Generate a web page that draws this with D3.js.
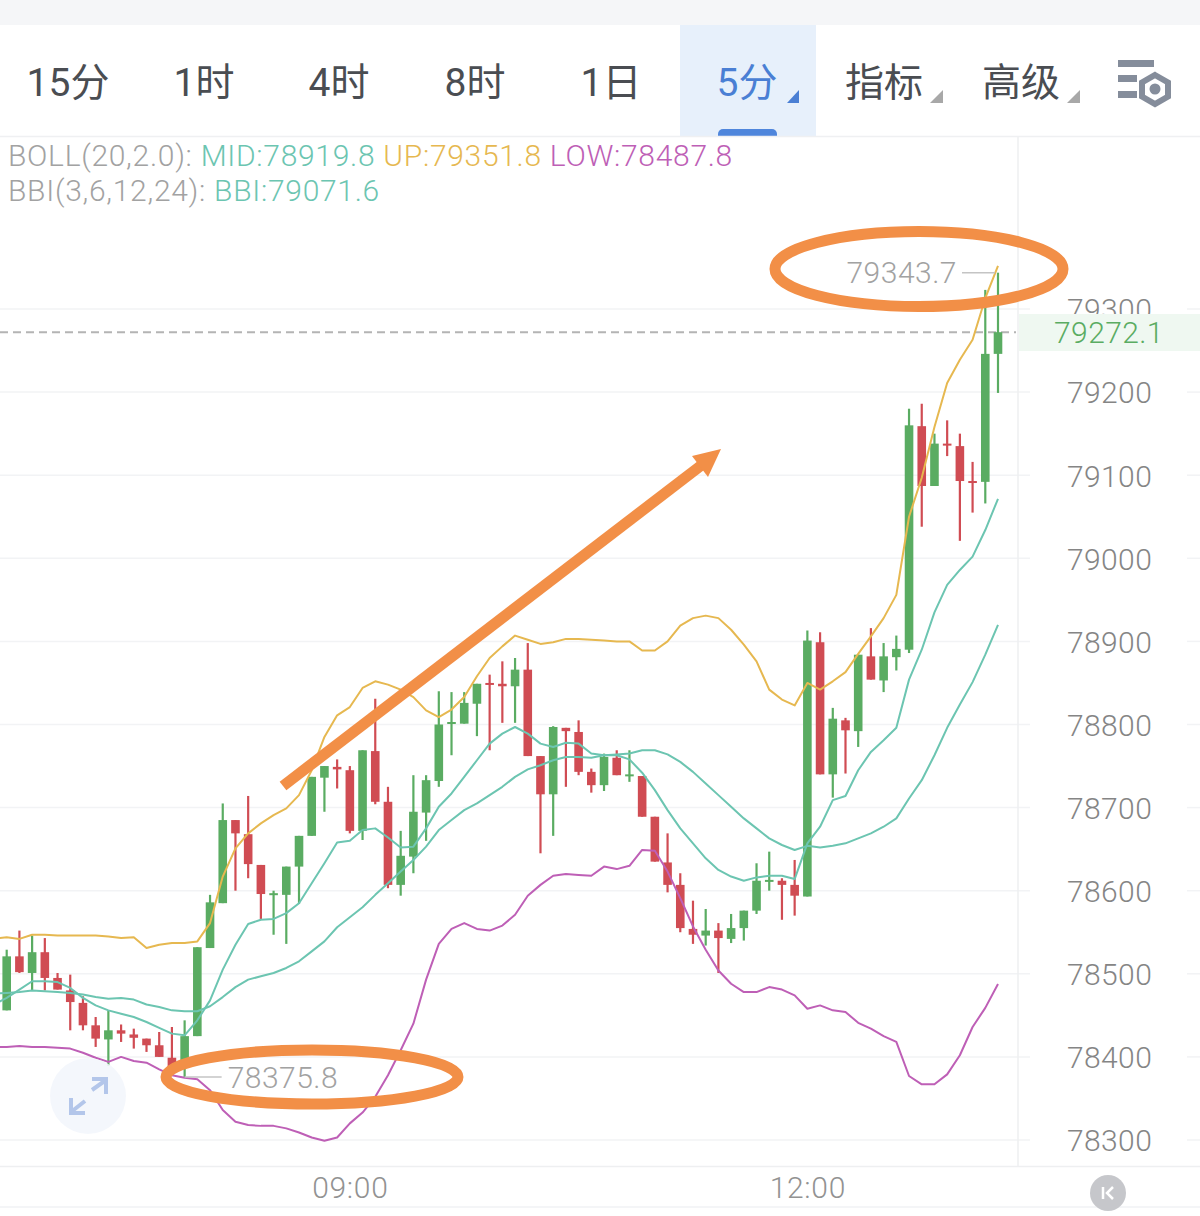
<!DOCTYPE html>
<html><head><meta charset="utf-8">
<script src="https://cdn.jsdelivr.net/npm/d3@7"></script>
<style>html,body{margin:0;padding:0;background:#fff;overflow:hidden}svg{display:block}text{font-family:Roboto,"Noto Sans CJK SC",sans-serif}</style>
</head><body><svg id="c" width="1200" height="1216"></svg>
<script>
const open=[78456,78521,78501,78526,78495,78480,78465,78438,78421,78432,78427,78422,78414,78399,78390,78425,78531,78585,78685,78668,78631,78595,78595,78629,78666,78736,78749,78745,78672,78768,78707,78607,78641,78694,78732,78801,78801,78825,78850,78849,78846,78866,78762,78716,78796,78791,78743,78727,78760,78738,78738,78689,78634,78607,78554,78546,78552,78542,78555,78576,78611,78612,78607,78593,78899,78740,78805,78792,78882,78853,78881,78890,79159,79087,79138,79135,79093,79092,79246];
const close=[78521,78502,78526,78495,78481,78466,78438,78422,78432,78428,78423,78414,78400,78388,78425,78532,78586,78685,78669,78632,78596,78597,78629,78666,78737,78750,78746,78672,78769,78707,78607,78642,78695,78733,78800,78803,78826,78849,78848,78846,78866,78762,78716,78797,78792,78743,78727,78761,78739,78740,78689,78635,78607,78555,78547,78552,78543,78555,78576,78612,78613,78607,78594,78901,78740,78807,78793,78884,78854,78882,78891,79160,79087,79138,79136,79093,79092,79246,79272.1];
const high=[78529,78552,78546,78543,78501,78499,78473,78448,78456,78439,78434,78422,78430,78436,78444,78532,78595,78705,78685,78714,78631,78600,78629,78666,78737,78750,78758,78750,78769,78831,78725,78672,78739,78739,78840,78839,78839,78849,78860,78876,78880,78898,78762,78798,78796,78805,78747,78765,78769,78769,78738,78689,78669,78621,78588,78578,78561,78572,78576,78633,78647,78615,78637,78913,78911,78820,78808,78884,78916,78898,78907,79180,79186,79150,79166,79150,79116,79323,79343.7];
const low=[78456,78501,78480,78480,78481,78432,78432,78412,78389,78418,78410,78406,78400,78383,78375.8,78425,78531,78585,78600,78615,78566,78547,78536,78584,78666,78695,78723,78669,78661,78704,78603,78594,78621,78660,78725,78763,78801,78786,78769,78802,78802,78762,78645,78666,78725,78739,78718,78720,78739,78731,78689,78635,78598,78550,78536,78534,78501,78537,78540,78572,78600,78565,78570,78593,78740,78712,78741,78773,78854,78839,78865,78886,79038,79087,79123,79021,79055,79066,79199];
const bollUp=[78544,78542,78547,78547,78546,78546,78546,78546,78545,78543,78544,78531,78535,78537,78537,78539,78561,78617,78651,78669,78681,78691,78699,78715,78745,78785,78811,78821,78844,78852,78848,78842,78833,78817,78809,78818,78833,78858,78880,78894,78907,78902,78897,78899,78903,78903,78902,78901,78900,78900,78889,78889,78900,78919,78928,78931,78928,78914,78896,78876,78842,78830,78823,78850,78842,78852,78863,78885,78906,78928,78956,79050,79097,79158,79211,79239,79263,79313,79351.8];
const bollMid=[78477,78478,78480,78479,78478,78477,78475,78472,78470,78471,78469,78463,78460,78456,78455,78455,78461,78472,78484,78493,78497,78501,78507,78515,78527,78539,78556,78568,78580,78595,78609,78623,78637,78653,78673,78685,78697,78705,78715,78725,78737,78746,78751,78757,78761,78761,78760,78763,78764,78765,78769,78769,78764,78755,78743,78729,78715,78701,78687,78675,78663,78655,78649,78654,78652,78654,78657,78663,78669,78677,78687,78711,78733,78763,78796,78824,78851,78884,78919.8];
const bollLow=[78412,78413,78412,78412,78411,78410,78405,78399,78394,78400,78395,78393,78385,78378,78375,78373,78360,78336,78322,78318,78317,78317,78314,78309,78303,78299,78303,78320,78333,78352,78378,78408,78440,78493,78536,78554,78561,78554,78552,78558,78571,78594,78607,78618,78620,78619,78618,78629,78626,78630,78649,78648,78623,78591,78557,78529,78504,78488,78478,78478,78484,78481,78474,78458,78462,78456,78454,78441,78434,78425,78418,78377,78367,78367,78379,78402,78436,78459,78487.8];
const bbi=[78471,78481,78491,78491,78490,78483,78471,78462,78456,78452,78448,78442,78435,78428,78426,78444,78468,78505,78535,78560,78565,78566,78573,78585,78609,78633,78658,78660,78673,78675,78664,78652,78653,78675,78701,78717,78737,78757,78777,78789,78797,78789,78777,78773,78778,78777,78765,78763,78763,78758,78742,78721,78697,78675,78657,78639,78625,78617,78612,78616,78618,78618,78614,78657,78677,78709,78714,78745,78767,78781,78796,78854,78890,78935,78968,78986,79002,79034,79071.6];
// values one bar before the first drawn candle, where the lines leave the picture
const prevUp=78542, prevMid=78476, prevLow=78412, prevBbi=78463;
const priceTicks=[78300,78400,78500,78600,78700,78800,78900,79000,79100,79200,79300];
const timeIdx=[27,63];
const timeLabels=["09:00","12:00"];
const tabs=["15分","1时","4时","8时","1日","5分","指标","高级"];
const tabX=[68,204,339,475,611,747,884,1021];
const lastPrice=79272.1, maxPrice=79343.7, minPrice=78375.8;

const svg=d3.select("#c");
const x=d3.scaleLinear().domain([0,78]).range([6.7,998]);
const y=d3.scaleLinear().domain([78300,79300]).range([1140,309]);
const GRID="#f2f3f5",UPC="#5aac62",DN="#d04c53",TEAL="#6cc5b1",YEL="#e6b850",PUR="#be5fb6",ORG="#f28f47";

// chrome
svg.append("rect").attr("width",1200).attr("height",25).attr("fill","#f5f6f8");
svg.append("rect").attr("x",680).attr("y",25).attr("width",136).attr("height",111).attr("fill","#e7f0fb");
svg.append("rect").attr("x",718).attr("y",129).attr("width",59).attr("height",14).attr("rx",5).attr("fill","#4f86dc");
svg.append("rect").attr("x",0).attr("y",136).attr("width",1200).attr("height",1080).attr("fill","#fff");
svg.append("line").attr("x1",0).attr("x2",1200).attr("y1",136.5).attr("y2",136.5).attr("stroke","#eff0f2").attr("stroke-width",1.5);
tabs.forEach((t,i)=>{svg.append("text").attr("x",tabX[i]).attr("y",96).attr("text-anchor","middle").attr("font-size",39)
 .attr("fill",i==5?"#4a7fd4":"#4a4d52").text(t);});
[[787,799,"#4a7fd4"],[930,943,"#a8a8a8"],[1067,1080,"#a8a8a8"]].forEach(a=>{
 svg.append("path").attr("d",`M${a[0]},103L${a[1]},90L${a[1]},103Z`).attr("fill",a[2]);});
// settings icon
const ic=svg.append("g").attr("fill","#858d9b");
ic.append("rect").attr("x",1118).attr("y",60).attr("width",36).attr("height",7);
ic.append("rect").attr("x",1118).attr("y",75).attr("width",19).attr("height",7);
ic.append("rect").attr("x",1118).attr("y",91).attr("width",19).attr("height",7);
svg.append("path").attr("d","M1155,75L1168,82.5L1168,96.5L1155,104L1142,96.5L1142,82.5Z").attr("fill","none").attr("stroke","#858d9b").attr("stroke-width",6);
svg.append("circle").attr("cx",1155).attr("cy",89).attr("r",5.5).attr("fill","#858d9b");

// grid
priceTicks.forEach(p=>{
 svg.append("line").attr("x1",0).attr("x2",1030).attr("y1",y(p)).attr("y2",y(p)).attr("stroke",GRID).attr("stroke-width",1.5);
 svg.append("line").attr("x1",1187).attr("x2",1200).attr("y1",y(p)).attr("y2",y(p)).attr("stroke",GRID).attr("stroke-width",1.5);
});
svg.append("line").attr("x1",1018).attr("x2",1018).attr("y1",137).attr("y2",1166).attr("stroke","#eeeff1").attr("stroke-width",1.5);
svg.append("line").attr("x1",0).attr("x2",1200).attr("y1",1166.5).attr("y2",1166.5).attr("stroke","#eeeff1").attr("stroke-width",1.5);
svg.append("line").attr("x1",0).attr("x2",1200).attr("y1",1207).attr("y2",1207).attr("stroke","#f1f2f4").attr("stroke-width",1.5);

// legend
function legend(yy,parts){const t=svg.append("text").attr("x",8).attr("y",yy).attr("font-size",30).attr("font-weight",300).attr("letter-spacing",0.7);
 parts.forEach(p=>t.append("tspan").attr("fill",p[1]).text(p[0]));}
legend(166,[["BOLL(20,2.0): ","#a2a2a2"],["MID:"+d3.format(".1f")(bollMid[78])+" ",TEAL],["UP:"+d3.format(".1f")(bollUp[78])+" ",YEL],["LOW:"+d3.format(".1f")(bollLow[78]),PUR]]);
legend(201,[["BBI(3,6,12,24): ","#a2a2a2"],["BBI:"+d3.format(".1f")(bbi[78]),TEAL]]);

// axis
const yAxis=svg.append("g").attr("transform","translate(1067,0)").call(d3.axisRight(y).tickValues(priceTicks).tickSize(0).tickPadding(0).tickFormat(d3.format("d")));
yAxis.select(".domain").remove();
yAxis.selectAll("text").attr("font-size",30).attr("fill","#858585").attr("dy","0.36em").attr("font-family",'Roboto').attr("font-weight",300).attr("letter-spacing",0.4);
const xAxis=svg.append("g").attr("transform","translate(0,1187)").call(d3.axisBottom(x).tickValues(timeIdx).tickSize(0).tickPadding(0).tickFormat((d,i)=>timeLabels[i]));
xAxis.select(".domain").remove();
xAxis.selectAll("text").attr("font-size",30).attr("fill","#929292").attr("dy","0.36em").attr("y",0).attr("font-family",'Roboto').attr("font-weight",300).attr("letter-spacing",0.7);

// last price
svg.append("rect").attr("x",1019).attr("y",314).attr("width",181).attr("height",37).attr("fill","#eff8f1");
svg.append("text").attr("x",1109).attr("y",y(lastPrice)).attr("dy","0.36em").attr("text-anchor","middle").attr("font-size",30).attr("font-weight",300).attr("letter-spacing",0.4).attr("fill",UPC).text(d3.format(".1f")(lastPrice));
svg.append("line").attr("x1",0).attr("x2",1016).attr("y1",y(lastPrice)).attr("y2",y(lastPrice)).attr("stroke","#b4b4b4").attr("stroke-width",2).attr("stroke-dasharray","8 5");

// candles
const plot=svg.append("g");
const g=plot.selectAll("g").data(open.map((o,i)=>i)).join("g");
g.append("line").attr("x1",i=>x(i)).attr("x2",i=>x(i)).attr("y1",i=>y(high[i])).attr("y2",i=>y(low[i])).attr("stroke-width",2.2)
 .attr("stroke",i=>close[i]>=open[i]?UPC:DN);
g.append("rect").attr("x",i=>x(i)-4.3).attr("width",8.6).attr("y",i=>y(Math.max(open[i],close[i])))
 .attr("height",i=>Math.max(2,Math.abs(y(open[i])-y(close[i])))).attr("fill",i=>close[i]>=open[i]?UPC:DN);

// lines
const ln=d3.line().x((d,i)=>x(i-1)).y(d=>y(d));
[[bollUp,prevUp,YEL],[bollMid,prevMid,TEAL],[bollLow,prevLow,PUR],[bbi,prevBbi,TEAL]].forEach(s=>{
 svg.append("path").attr("d",ln([s[1]].concat(s[0]))).attr("fill","none").attr("stroke",s[2]).attr("stroke-width",2).attr("stroke-linejoin","round");});

// extremes
const hiI=high.indexOf(maxPrice),loI=low.indexOf(minPrice);
svg.append("line").attr("x1",x(hiI)-36).attr("x2",x(hiI)-3).attr("y1",y(maxPrice)).attr("y2",y(maxPrice)).attr("stroke","#c4c4c4").attr("stroke-width",1.5);
svg.append("text").attr("x",x(hiI)-41).attr("y",y(maxPrice)).attr("dy","0.36em").attr("text-anchor","end").attr("font-size",30).attr("font-weight",300).attr("letter-spacing",0.5).attr("fill","#a2a2a2").text(d3.format(".1f")(maxPrice));
svg.append("line").attr("x1",x(loI)).attr("x2",x(loI)+37).attr("y1",y(minPrice)).attr("y2",y(minPrice)).attr("stroke","#c4c4c4").attr("stroke-width",1.5);
svg.append("text").attr("x",x(loI)+43).attr("y",y(minPrice)).attr("dy","0.36em").attr("font-size",30).attr("font-weight",300).attr("letter-spacing",0.5).attr("fill","#a2a2a2").text(d3.format(".1f")(minPrice));

// annotations
svg.append("ellipse").attr("cx",919).attr("cy",269).attr("rx",144).attr("ry",37.5).attr("fill","none").attr("stroke",ORG).attr("stroke-width",11);
svg.append("ellipse").attr("cx",312).attr("cy",1077).attr("rx",146).attr("ry",27).attr("fill","none").attr("stroke",ORG).attr("stroke-width",11);
svg.append("line").attr("x1",283).attr("y1",786).attr("x2",703).attr("y2",464).attr("stroke",ORG).attr("stroke-width",11);
svg.append("path").attr("d","M721,449L708,477L692,456Z").attr("fill",ORG);

// expand button
svg.append("circle").attr("cx",88).attr("cy",1096).attr("r",38).attr("fill","#f3f6fc").attr("fill-opacity",0.9);
svg.append("path").attr("d","M92,1090L106,1080M92,1079H106V1094M85,1101L71,1112M71,1098V1113H85").attr("fill","none").attr("stroke","#b3c6ea").attr("stroke-width",4);
// collapse button
svg.append("circle").attr("cx",1108).attr("cy",1193).attr("r",18).attr("fill","#c6c7cb");
svg.append("path").attr("d","M1103,1187V1199M1113,1187L1107,1193L1113,1199").attr("fill","none").attr("stroke","#fff").attr("stroke-width",2.5);
</script></body></html>
